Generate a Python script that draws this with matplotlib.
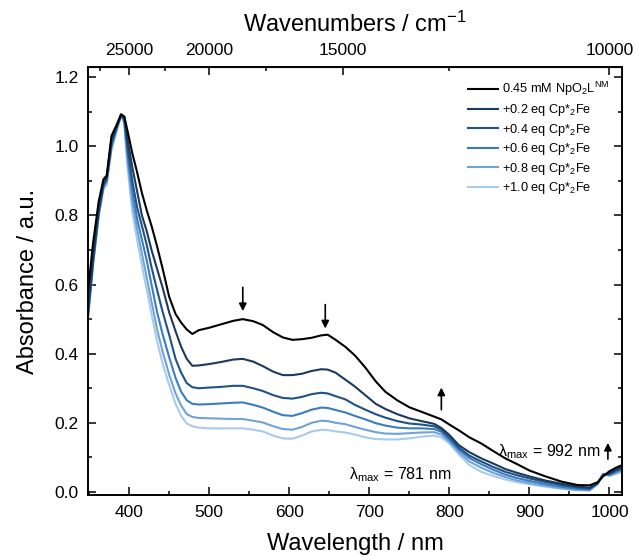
import matplotlib
matplotlib.use("Agg")
import matplotlib.pyplot as plt
import numpy as np

plt.rcParams['font.family'] = ['Liberation Sans', 'DejaVu Sans']
plt.rcParams['mathtext.fontset'] = 'custom'
plt.rcParams['mathtext.rm'] = 'Liberation Sans'
plt.rcParams['mathtext.it'] = 'Liberation Sans:italic'
plt.rcParams['mathtext.sf'] = 'Liberation Sans'

# wavelength grid (nm)
wl = [348, 355, 362, 368, 372, 378, 384, 390, 394, 398, 404, 410, 416, 422, 428,
      435, 442, 450, 458, 465, 472, 479, 487, 500, 515, 530, 542, 555, 567, 580,
      592, 604, 616, 628, 640, 648, 658, 670, 682, 695, 708, 720, 735, 750, 765,
      781, 790, 800, 812, 825, 840, 855, 870, 885, 900, 920, 940, 960, 975, 985,
      992, 1000, 1008, 1016]

abs_00 = [0.565, 0.72, 0.84, 0.905, 0.915, 1.03, 1.06, 1.093, 1.086, 1.045, 0.98, 0.925, 0.865, 0.815, 0.77,
          0.71, 0.645, 0.565, 0.515, 0.49, 0.47, 0.457, 0.468, 0.475, 0.485, 0.495, 0.50, 0.494, 0.483, 0.462,
          0.447, 0.44, 0.442, 0.446, 0.453, 0.455, 0.44, 0.42, 0.395, 0.36, 0.32, 0.29, 0.265, 0.245, 0.232,
          0.218, 0.21, 0.195, 0.178, 0.158, 0.14, 0.118, 0.097, 0.08, 0.062, 0.045, 0.03, 0.02, 0.019, 0.028,
          0.045, 0.06, 0.07, 0.078]
abs_02 = [0.51, 0.68, 0.82, 0.895, 0.91, 1.02, 1.055, 1.09, 1.085, 1.02, 0.94, 0.87, 0.80, 0.755, 0.70,
          0.645, 0.59, 0.52, 0.465, 0.42, 0.385, 0.365, 0.366, 0.37, 0.376, 0.383, 0.385, 0.377, 0.364, 0.348,
          0.338, 0.338, 0.342, 0.35, 0.355, 0.354, 0.345, 0.325, 0.305, 0.28, 0.255, 0.24, 0.225, 0.213, 0.205,
          0.197, 0.185, 0.165, 0.135, 0.115, 0.097, 0.082, 0.066, 0.055, 0.045, 0.033, 0.024, 0.016, 0.012, 0.025,
          0.048, 0.055, 0.065, 0.072]
abs_04 = [0.50, 0.67, 0.81, 0.89, 0.905, 1.01, 1.05, 1.09, 1.08, 1.0, 0.90, 0.823, 0.77, 0.715, 0.65,
          0.584, 0.52, 0.455, 0.385, 0.345, 0.315, 0.303, 0.30, 0.302, 0.304, 0.307, 0.307, 0.30, 0.292, 0.28,
          0.272, 0.27, 0.275, 0.283, 0.287, 0.285, 0.277, 0.268, 0.252, 0.238, 0.225, 0.215, 0.205, 0.198, 0.195,
          0.19, 0.18, 0.158, 0.128, 0.105, 0.088, 0.072, 0.058, 0.048, 0.039, 0.029, 0.02, 0.013, 0.01, 0.025,
          0.05, 0.052, 0.062, 0.07]
abs_06 = [0.495, 0.665, 0.805, 0.885, 0.90, 1.0, 1.05, 1.09, 1.075, 0.98, 0.87, 0.79, 0.73, 0.67, 0.60,
          0.52, 0.455, 0.39, 0.33, 0.29, 0.265, 0.255, 0.253, 0.254, 0.256, 0.258, 0.259, 0.252, 0.244, 0.232,
          0.222, 0.22, 0.228, 0.238, 0.244, 0.243, 0.237, 0.23, 0.22, 0.21, 0.199, 0.192, 0.186, 0.184, 0.184,
          0.182, 0.174, 0.152, 0.122, 0.098, 0.08, 0.064, 0.05, 0.04, 0.032, 0.023, 0.015, 0.009, 0.007, 0.024,
          0.05, 0.05, 0.058, 0.066]
abs_08 = [0.49, 0.66, 0.80, 0.88, 0.895, 0.995, 1.045, 1.09, 1.07, 0.96, 0.84, 0.76, 0.69, 0.62, 0.55,
          0.47, 0.405, 0.34, 0.285, 0.25, 0.225, 0.217, 0.214, 0.213, 0.212, 0.211, 0.211, 0.206, 0.201, 0.19,
          0.182, 0.18, 0.188, 0.20, 0.206, 0.205, 0.20, 0.196, 0.188, 0.18, 0.173, 0.169, 0.168, 0.17, 0.172,
          0.173, 0.166, 0.146, 0.115, 0.088, 0.07, 0.055, 0.043, 0.033, 0.026, 0.018, 0.011, 0.006, 0.005, 0.023,
          0.052, 0.048, 0.055, 0.062]
abs_10 = [0.48, 0.655, 0.795, 0.875, 0.89, 0.99, 1.04, 1.09, 1.065, 0.94, 0.81, 0.73, 0.655, 0.585, 0.515,
          0.435, 0.37, 0.31, 0.255, 0.22, 0.198, 0.19, 0.186, 0.184, 0.184, 0.184, 0.184, 0.18, 0.175, 0.163,
          0.155, 0.154, 0.163, 0.175, 0.18, 0.179, 0.175, 0.172, 0.166, 0.158, 0.153, 0.152, 0.152, 0.155, 0.16,
          0.163, 0.158, 0.14, 0.108, 0.078, 0.058, 0.046, 0.036, 0.028, 0.022, 0.015, 0.009, 0.005, 0.004, 0.022,
          0.053, 0.046, 0.052, 0.058]

series = [abs_00, abs_02, abs_04, abs_06, abs_08, abs_10]
labels = ['0.45 mM NpO$_2$L$^{\\mathrm{NM}}$',
          '+0.2 eq Cp*$_2$Fe', '+0.4 eq Cp*$_2$Fe', '+0.6 eq Cp*$_2$Fe',
          '+0.8 eq Cp*$_2$Fe', '+1.0 eq Cp*$_2$Fe']
colors = ['#000000', '#1c3a5c', '#1f5288', '#3b7cc0', '#6fa3d8', '#a7cbee']

fig = plt.figure(figsize=(6.35, 5.56), dpi=100)
ax = fig.add_axes([0.139, 0.109, 0.841, 0.7696])

# lightest first so the darker lines sit on top
for y, lab, c in reversed(list(zip(series, labels, colors))):
    ax.plot(wl, y, color=c, lw=1.5, label=lab)

ax.set_xlim(349, 1016)
ax.set_ylim(-0.01, 1.228)
ax.set_xticks([400, 500, 600, 700, 800, 900, 1000])
ax.set_xticks(np.arange(350, 1016, 50), minor=True)
ax.set_yticks(np.arange(0, 1.21, 0.2))
ax.set_yticks(np.arange(0, 1.22, 0.1), minor=True)
ax.yaxis.set_major_formatter(plt.FormatStrFormatter('%.1f'))
ax.tick_params(which='both', direction='in', right=True, labelsize=12.5, width=1.1, pad=7)
ax.tick_params(which='major', length=6)
ax.tick_params(which='minor', length=3)
for s in ax.spines.values():
    s.set_linewidth(1.4)

ax.set_xlabel('Wavelength / nm', fontsize=17, labelpad=9)
ax.set_ylabel('Absorbance / a.u.', fontsize=17, labelpad=11)

def nm2wn(x):
    x = np.asarray(x, dtype=float)
    with np.errstate(divide='ignore'):
        return 1e7 / x

top = ax.secondary_xaxis('top', functions=(nm2wn, nm2wn))
top.set_xticks([25000, 20000, 15000, 10000])
top.set_xticks([27500, 22500, 17500, 12500], minor=True)
top.tick_params(which='both', direction='in', labelsize=12.5, width=1.1, pad=7)
top.tick_params(which='major', length=6)
top.tick_params(which='minor', length=3)
top.set_xlabel('Wavenumbers / cm$^{-1}$', fontsize=17, labelpad=8)

# arrows
arr = dict(arrowstyle='-|>', color='black', lw=1.2, mutation_scale=11)
ax.annotate('', xy=(542, 0.515), xytext=(542, 0.60), arrowprops=arr)
ax.annotate('', xy=(645, 0.465), xytext=(645, 0.55), arrowprops=arr)
ax.annotate('', xy=(790, 0.31), xytext=(790, 0.23), arrowprops=arr)
ax.annotate('', xy=(998, 0.15), xytext=(998, 0.087), arrowprops=arr)

ax.text(803, 0.05, 'λ$_{\\mathrm{max}}$ = 781 nm', fontsize=11.5, ha='right', va='center')
ax.text(988, 0.118, 'λ$_{\\mathrm{max}}$ = 992 nm', fontsize=11.5, ha='right', va='center')

h, l = ax.get_legend_handles_labels()
ax.legend(h[::-1], l[::-1], loc='upper right', frameon=False, fontsize=9.2,
          handlelength=2.4, labelspacing=0.28, handletextpad=0.3,
          bbox_to_anchor=(1.0, 1.0), borderaxespad=0.6)

fig.savefig('out.png', dpi=100)
